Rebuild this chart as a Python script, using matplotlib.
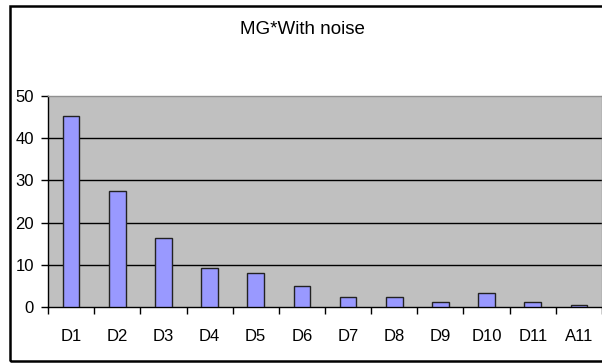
import matplotlib
matplotlib.use("Agg")
import matplotlib.pyplot as plt
from matplotlib.patches import Rectangle

# bar heights per class
categories = ["D1", "D2", "D3", "D4", "D5", "D6", "D7", "D8", "D9", "D10", "D11", "A11"]
values = [45.3, 27.5, 16.4, 9.2, 8.1, 5.0, 2.4, 2.4, 1.25, 3.2, 1.2, 0.4]
yticks = [0, 10, 20, 30, 40, 50]

font = ["Liberation Sans Narrow", "Liberation Sans", "DejaVu Sans"]

fig = plt.figure(figsize=(6.02, 3.64), dpi=100)
ax = fig.add_axes([48 / 602, 57 / 364, 554 / 602, 211 / 364])

# plot area
ax.set_facecolor("#c0c0c0")
xs = range(len(categories))
ax.bar(xs, values, width=0.36, color="#9999ff", edgecolor="#222222", linewidth=1.0, zorder=3)

# gridlines
for y in yticks[1:-1]:
    ax.axhline(y, color="black", linewidth=1.0, zorder=2)

ax.set_xlim(-0.5, len(categories) - 0.5)
ax.set_ylim(0, 50)

# axes
for side in ["top", "right"]:
    ax.spines[side].set_color("#909090")
    ax.spines[side].set_linewidth(1.0)
ax.spines["left"].set_color("black")
ax.spines["bottom"].set_color("black")
ax.spines["left"].set_linewidth(1.0)
ax.spines["bottom"].set_linewidth(1.0)

ax.set_yticks(yticks)
ax.set_yticklabels([str(t) for t in yticks], family=font, fontsize=12)
ax.tick_params(axis="y", length=5, width=1.0, pad=5, color="black")

# x ticks sit on category boundaries, labels in the middle
ax.set_xticks([i - 0.5 for i in range(len(categories) + 1)])
ax.set_xticklabels([])
ax.tick_params(axis="x", length=5, width=1.0, color="black")
for i, name in enumerate(categories):
    ax.text(i, -0.105, name, transform=ax.get_xaxis_transform(), ha="center", va="top",
            family=font, fontsize=12)

fig.text(0.503, 1 - 30 / 364, "MG*With noise", ha="center", va="center",
         family=font, fontsize=13.5)

# outer frame
fig.patches.append(Rectangle((9.5 / 602, 3 / 364), 1.2, 355 / 364, transform=fig.transFigure,
                             fill=False, edgecolor="black", linewidth=1.8))

fig.savefig("out.png", dpi=100)
